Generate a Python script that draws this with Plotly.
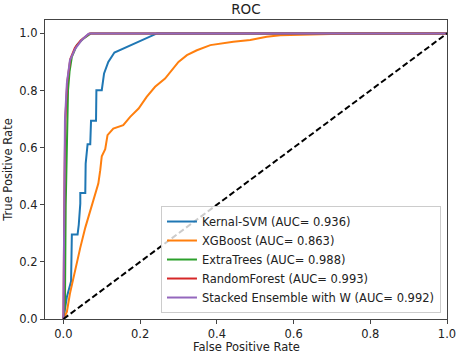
import plotly.graph_objects as go

# Kernal-SVM
svm_fpr = [0, 0.009, 0.020, 0.022, 0.037, 0.040, 0.044, 0.044, 0.057, 0.058, 0.058, 0.063, 0.070, 0.072,
           0.085, 0.086, 0.100, 0.106, 0.117, 0.133, 0.156, 0.191, 0.217, 0.244, 1.0]
svm_tpr = [0, 0.077, 0.132, 0.296, 0.296, 0.330, 0.404, 0.441, 0.441, 0.486, 0.544, 0.612, 0.612, 0.694,
           0.694, 0.801, 0.801, 0.860, 0.900, 0.933, 0.947, 0.970, 0.986, 1.0, 1.0]

# XGBoost
xgb_fpr = [0, 0.009, 0.017, 0.031, 0.044, 0.057, 0.070, 0.083, 0.091, 0.096, 0.100, 0.109, 0.115, 0.130,
           0.156, 0.174, 0.196, 0.217, 0.239, 0.265, 0.287, 0.300, 0.322, 0.348, 0.383, 0.443, 0.487, 0.530,
           0.565, 0.609, 0.696, 0.75, 1.0]
xgb_tpr = [0, 0.025, 0.089, 0.178, 0.250, 0.320, 0.381, 0.439, 0.474, 0.521, 0.570, 0.595, 0.644, 0.667,
           0.679, 0.708, 0.737, 0.778, 0.813, 0.842, 0.877, 0.900, 0.924, 0.941, 0.959, 0.971, 0.977, 0.988,
           0.994, 0.995, 0.998, 1.0, 1.0]

# ExtraTrees
et_fpr = [0, 0.004, 0.006, 0.010, 0.012, 0.016, 0.022, 0.035, 0.052, 0.065, 0.072, 1.0]
et_tpr = [0, 0.05, 0.40, 0.70, 0.80, 0.866, 0.918, 0.959, 0.982, 0.994, 1.0, 1.0]

# RandomForest
rf_fpr = [0, 0.001, 0.003, 0.005, 0.010, 0.018, 0.030, 0.045, 0.060, 0.068, 1.0]
rf_tpr = [0, 0.25, 0.50, 0.70, 0.83, 0.91, 0.95, 0.975, 0.99, 1.0, 1.0]

# Stacked Ensemble with W
st_fpr = [0, 0.001, 0.002, 0.004, 0.009, 0.017, 0.031, 0.048, 0.065, 0.070, 1.0]
st_tpr = [0, 0.20, 0.486, 0.696, 0.825, 0.906, 0.947, 0.977, 0.998, 1.0, 1.0]

names = ["Kernal-SVM (AUC= 0.936)", "XGBoost (AUC= 0.863)", "ExtraTrees (AUC= 0.988)",
         "RandomForest (AUC= 0.993)", "Stacked Ensemble with W (AUC= 0.992)"]
colors = ["#1f77b4", "#ff7f0e", "#2ca02c", "#d62728", "#9467bd"]
series = [(svm_fpr, svm_tpr), (xgb_fpr, xgb_tpr), (et_fpr, et_tpr), (rf_fpr, rf_tpr), (st_fpr, st_tpr)]

diag = [0, 1]
tick_vals = [0, 0.2, 0.4, 0.6, 0.8, 1.0]
tick_text = ["0.0", "0.2", "0.4", "0.6", "0.8", "1.0"]

fig = go.Figure()
for (fx, ty), n, c in zip(series, names, colors):
    fig.add_trace(go.Scatter(x=fx, y=ty, mode="lines", name=n, line=dict(color=c, width=2)))
fig.add_trace(go.Scatter(x=diag, y=diag, mode="lines", showlegend=False,
                         line=dict(color="black", width=2, dash="6px,3px")))

font = "DejaVu Sans, sans-serif"
axis_common = dict(showgrid=False, zeroline=False, showline=True, linecolor="#444", linewidth=1.2,
                   mirror=True, ticks="outside", ticklen=4, tickcolor="#444", automargin=False,
                   tickvals=tick_vals, ticktext=tick_text,
                   tickfont=dict(family=font, size=11.5, color="#222"))
fig.update_layout(
    width=457, height=353,
    margin=dict(l=45, r=10, t=20, b=34),
    paper_bgcolor="white", plot_bgcolor="white",
    title=dict(text="ROC", x=0.538, xanchor="center", yref="container", y=0.974, yanchor="middle",
               font=dict(family=font, size=13.5, color="#222")),
    xaxis=dict(range=[-0.048, 1.0], **axis_common),
    yaxis=dict(range=[0, 1.047],
               title=dict(text="True Positive Rate", font=dict(family=font, size=11.5, color="#222"), standoff=4),
               **axis_common),
    legend=dict(x=0.985, xanchor="right", y=0.02, yanchor="bottom",
                bgcolor="rgba(255,255,255,0.8)", bordercolor="#ccc", borderwidth=1,
                font=dict(family=font, size=11.5, color="#222"), tracegroupgap=0,
                itemwidth=30),
    showlegend=True,
    annotations=[dict(text="False Positive Rate", xref="paper", yref="paper", x=0.5, y=0,
                      xanchor="center", yanchor="middle", yshift=-28, showarrow=False,
                      font=dict(family=font, size=11.5, color="#222"))],
)

fig.write_html("out.html", config={"displayModeBar": False},
               post_script="document.body.style.margin='0';document.body.style.padding='0';")
